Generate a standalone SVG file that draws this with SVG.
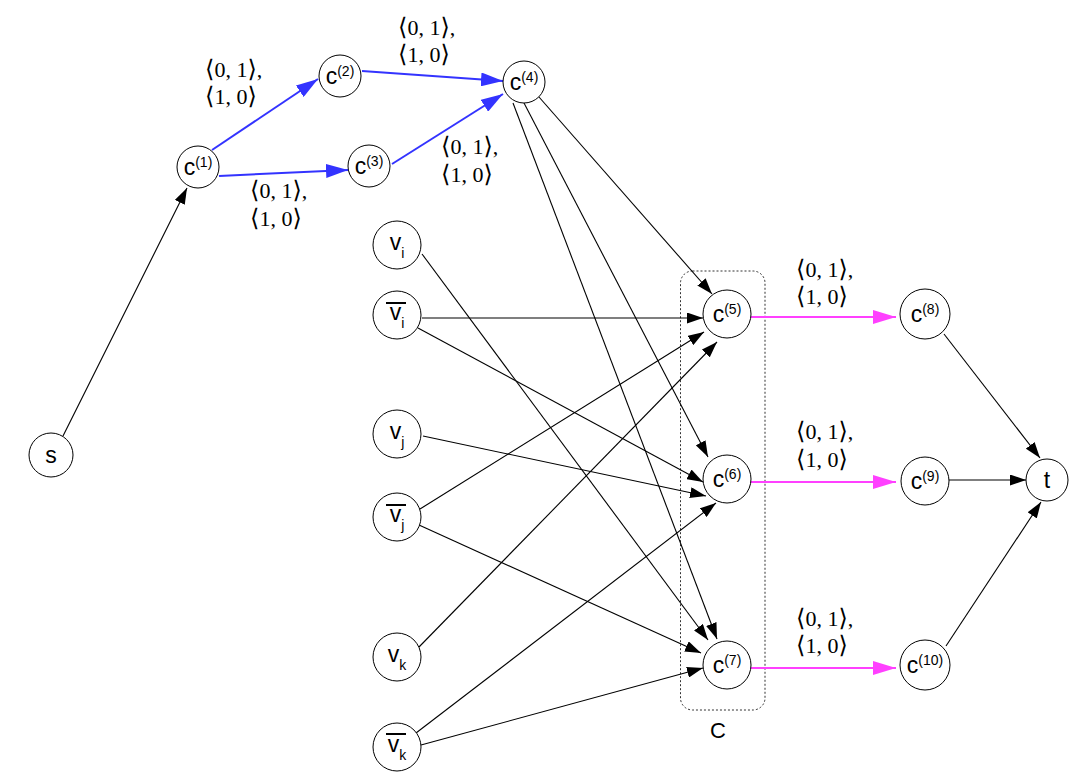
<svg xmlns="http://www.w3.org/2000/svg" width="1075" height="781" viewBox="0 0 1075 781">
<defs>
<style>
.nd{fill:#fff;stroke:#000;stroke-width:1}
.lb{font-family:"Liberation Sans",Arial,sans-serif;font-size:23px;fill:#000}
.sp{font-size:14px}
.sb{font-size:14px}
.e{stroke:#000;stroke-width:1.1;fill:none;marker-end:url(#ah)}
.eb{stroke:#3333ff;stroke-width:2;fill:none;marker-end:url(#ahb)}
.em{stroke:#ff40ff;stroke-width:2;fill:none;marker-end:url(#ahm)}
.ml{font-family:"Liberation Serif","DejaVu Serif","DejaVu Sans",serif;font-size:22px;fill:#000}
.br{font-size:24px}
.ov{stroke:#000;stroke-width:2}
</style>
<marker id="ah" markerWidth="16" markerHeight="11" refX="16" refY="5.5" orient="auto" markerUnits="userSpaceOnUse"><path d="M0,0 L16,5.5 L0,11 z" fill="#000"/></marker>
<marker id="ahb" markerWidth="22" markerHeight="14" refX="22" refY="7" orient="auto" markerUnits="userSpaceOnUse"><path d="M0,0 L22,7 L0,14 z" fill="#3333ff"/></marker>
<marker id="ahm" markerWidth="23" markerHeight="14" refX="23" refY="7" orient="auto" markerUnits="userSpaceOnUse"><path d="M0,0 L23,7 L0,14 z" fill="#ff40ff"/></marker>
</defs>
<rect width="1075" height="781" fill="#fff"/>

<g id="cluster">
<rect x="680.5" y="271" width="84.5" height="439" rx="12" ry="12" fill="none" stroke="#333" stroke-width="1" stroke-dasharray="2 2"/>
<text class="lb" x="718" y="738" text-anchor="middle" style="font-size:22px">C</text>
</g>

<g id="edges">
<line class="e" x1="63" y1="436" x2="187" y2="188"/>
<line class="eb" x1="212" y1="150" x2="318" y2="79"/>
<line class="eb" x1="362" y1="71" x2="503" y2="81"/>
<line class="eb" x1="219" y1="176" x2="348" y2="170"/>
<line class="eb" x1="392" y1="164" x2="503" y2="94"/>
<line class="e" x1="539" y1="97" x2="712" y2="294"/>
<line class="e" x1="524" y1="103" x2="708" y2="457"/>
<line class="e" x1="513" y1="103" x2="717" y2="639"/>
<line class="e" x1="422" y1="254" x2="708" y2="640"/>
<line class="e" x1="422" y1="318" x2="703" y2="318"/>
<line class="e" x1="418" y1="328" x2="703" y2="482"/>
<line class="e" x1="423" y1="436" x2="706" y2="496"/>
<line class="e" x1="420" y1="509" x2="704" y2="332"/>
<line class="e" x1="419" y1="525" x2="701" y2="653"/>
<line class="e" x1="419" y1="647" x2="717" y2="342"/>
<line class="e" x1="416" y1="733" x2="716" y2="503"/>
<line class="e" x1="421" y1="745" x2="703" y2="668"/>
<line class="em" x1="751" y1="317" x2="896" y2="317"/>
<line class="em" x1="751" y1="482" x2="896" y2="482"/>
<line class="em" x1="751" y1="668" x2="896" y2="668"/>
<line class="e" x1="944" y1="334" x2="1040" y2="458"/>
<line class="e" x1="949" y1="480" x2="1026" y2="480"/>
<line class="e" x1="946" y1="646" x2="1041" y2="502"/>
</g>

<g id="edge-labels">
<text class="ml" x="205" y="77"><tspan class="br">⟨</tspan>0, 1<tspan class="br">⟩</tspan>,</text>
<text class="ml" x="205" y="104"><tspan class="br">⟨</tspan>1, 0<tspan class="br">⟩</tspan></text>
<text class="ml" x="398" y="35"><tspan class="br">⟨</tspan>0, 1<tspan class="br">⟩</tspan>,</text>
<text class="ml" x="398" y="62"><tspan class="br">⟨</tspan>1, 0<tspan class="br">⟩</tspan></text>
<text class="ml" x="441" y="154"><tspan class="br">⟨</tspan>0, 1<tspan class="br">⟩</tspan>,</text>
<text class="ml" x="441" y="182"><tspan class="br">⟨</tspan>1, 0<tspan class="br">⟩</tspan></text>
<text class="ml" x="250" y="198"><tspan class="br">⟨</tspan>0, 1<tspan class="br">⟩</tspan>,</text>
<text class="ml" x="250" y="226"><tspan class="br">⟨</tspan>1, 0<tspan class="br">⟩</tspan></text>
<text class="ml" x="796" y="277"><tspan class="br">⟨</tspan>0, 1<tspan class="br">⟩</tspan>,</text>
<text class="ml" x="796" y="304"><tspan class="br">⟨</tspan>1, 0<tspan class="br">⟩</tspan></text>
<text class="ml" x="796" y="439"><tspan class="br">⟨</tspan>0, 1<tspan class="br">⟩</tspan>,</text>
<text class="ml" x="796" y="467"><tspan class="br">⟨</tspan>1, 0<tspan class="br">⟩</tspan></text>
<text class="ml" x="796" y="626"><tspan class="br">⟨</tspan>0, 1<tspan class="br">⟩</tspan>,</text>
<text class="ml" x="796" y="653"><tspan class="br">⟨</tspan>1, 0<tspan class="br">⟩</tspan></text>
</g>

<g id="s"><circle class="nd" cx="51" cy="455" r="22"/><text class="lb" x="51" y="463" text-anchor="middle">s</text></g>
<g id="t"><circle class="nd" cx="1047" cy="480" r="21"/><text class="lb" x="1047" y="488" text-anchor="middle">t</text></g>

<g id="c1"><circle class="nd" cx="198" cy="167" r="21"/><text class="lb" x="198" y="175" text-anchor="middle">c<tspan class="sp" dy="-8">(1)</tspan></text></g>
<g id="c2"><circle class="nd" cx="340" cy="76" r="21"/><text class="lb" x="340" y="84" text-anchor="middle">c<tspan class="sp" dy="-8">(2)</tspan></text></g>
<g id="c3"><circle class="nd" cx="369" cy="166" r="21"/><text class="lb" x="369" y="174" text-anchor="middle">c<tspan class="sp" dy="-8">(3)</tspan></text></g>
<g id="c4"><circle class="nd" cx="524" cy="82" r="21"/><text class="lb" x="524" y="90" text-anchor="middle">c<tspan class="sp" dy="-8">(4)</tspan></text></g>
<g id="c5"><circle class="nd" cx="727" cy="314" r="24"/><text class="lb" x="727" y="322" text-anchor="middle">c<tspan class="sp" dy="-8">(5)</tspan></text></g>
<g id="c6"><circle class="nd" cx="727" cy="479" r="24"/><text class="lb" x="727" y="487" text-anchor="middle">c<tspan class="sp" dy="-8">(6)</tspan></text></g>
<g id="c7"><circle class="nd" cx="727" cy="665" r="24"/><text class="lb" x="727" y="673" text-anchor="middle">c<tspan class="sp" dy="-8">(7)</tspan></text></g>
<g id="c8"><circle class="nd" cx="925" cy="314" r="25"/><text class="lb" x="925" y="322" text-anchor="middle">c<tspan class="sp" dy="-8">(8)</tspan></text></g>
<g id="c9"><circle class="nd" cx="925" cy="481" r="24"/><text class="lb" x="925" y="489" text-anchor="middle">c<tspan class="sp" dy="-8">(9)</tspan></text></g>
<g id="c10"><circle class="nd" cx="925" cy="665" r="25"/><text class="lb" x="925" y="673" text-anchor="middle">c<tspan class="sp" dy="-8">(10)</tspan></text></g>

<g id="vi"><circle class="nd" cx="397" cy="245" r="24"/><text class="lb" x="397" y="250" text-anchor="middle">v<tspan class="sb" dy="8">i</tspan></text></g>
<g id="vbar_i"><circle class="nd" cx="397" cy="315" r="24"/><text class="lb" x="397" y="320" text-anchor="middle">v<tspan class="sb" dy="8">i</tspan></text><line class="ov" x1="386" y1="303" x2="406" y2="303"/></g>
<g id="vj"><circle class="nd" cx="397" cy="434" r="24"/><text class="lb" x="397" y="439" text-anchor="middle">v<tspan class="sb" dy="8">j</tspan></text></g>
<g id="vbar_j"><circle class="nd" cx="397" cy="517" r="24"/><text class="lb" x="397" y="522" text-anchor="middle">v<tspan class="sb" dy="8">j</tspan></text><line class="ov" x1="386" y1="505" x2="406" y2="505"/></g>
<g id="vk"><circle class="nd" cx="397" cy="657" r="24"/><text class="lb" x="397" y="662" text-anchor="middle">v<tspan class="sb" dy="8">k</tspan></text></g>
<g id="vbar_k"><circle class="nd" cx="397" cy="747" r="24"/><text class="lb" x="397" y="752" text-anchor="middle">v<tspan class="sb" dy="8">k</tspan></text><line class="ov" x1="386" y1="734" x2="406" y2="734"/></g>
</svg>
